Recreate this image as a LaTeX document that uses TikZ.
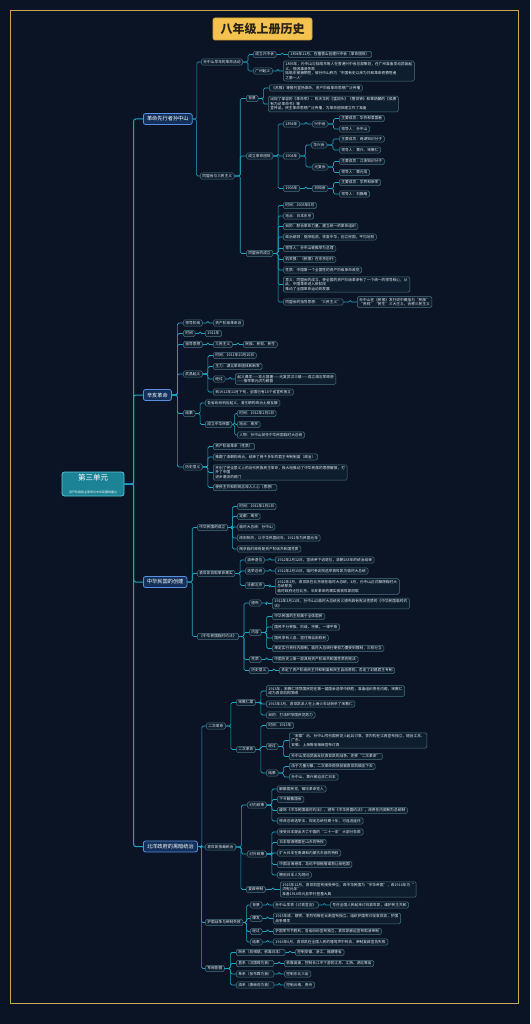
\documentclass[tikz,border=0pt]{standalone}
\usepackage{fontspec}
\setmainfont{Noto Sans CJK SC}
\usetikzlibrary{calc}
\definecolor{bgc}{HTML}{0B1424}
\definecolor{framec}{HTML}{C8A850}
\definecolor{lkc}{HTML}{1EA7C4}
\definecolor{bxfill}{HTML}{0F1E2E}
\definecolor{bxline}{HTML}{4A7482}
\definecolor{onefill}{HTML}{12305A}
\definecolor{oneline}{HTML}{5A8FE0}
\definecolor{rootfill}{HTML}{1C8295}
\definecolor{rootline}{HTML}{58C8DC}
\definecolor{titlefill}{HTML}{F3C24F}
\definecolor{titleline}{HTML}{D9A531}
\definecolor{titletext}{HTML}{2A2418}
\definecolor{txt}{HTML}{E6EEF4}
\tikzset{
  bx/.style={anchor=west, draw=bxline, fill=bxfill, rounded corners=1.5pt, line width=0.5pt,
    inner xsep=2.2pt, inner ysep=1.4pt, text=txt, font=\fontsize{3.7}{4.6}\selectfont, align=left},
  lone/.style={anchor=west, draw=oneline, fill=onefill, rounded corners=2pt, line width=0.8pt,
    inner xsep=3.6pt, inner ysep=3pt, text=white, font=\fontsize{5.2}{6}\selectfont},
  rootbox/.style={draw=rootline, fill=rootfill, rounded corners=2.5pt, line width=0.8pt,
    minimum width=62pt, minimum height=24pt, align=center, text=white, inner sep=1pt},
  titlebox/.style={draw=titleline, fill=titlefill, rounded corners=2pt, line width=0.6pt,
    minimum width=99pt, minimum height=22pt, text=titletext, font=\fontsize{12}{14}\selectfont\bfseries},
  lk/.style={draw=lkc, line width=0.6pt, rounded corners=1.5pt},
  lkone/.style={draw=lkc, line width=1pt, rounded corners=2pt},
}
\newcommand\mynode[5][bx]{\node[#1] (#2) at (#3,#4) {#5};}
\newcommand\mylink[3][lk]{\draw[#1] (#2.east) -- ($(#2.east)!.5!(#2.east -| #3.west)$) |- (#3.west);}
\begin{document}
\begin{tikzpicture}[x=1pt,y=-1pt]
\fill[bgc] (0,0) rectangle (530,1024);
\useasboundingbox (0,0) rectangle (530,1024);
\draw[framec, line width=0.8pt] (10,10) rectangle (518,1003);

\node[titlebox] (T) at (262.5,29) {八年级上册历史};
\node[rootbox] (R) at (93,484) {{\fontsize{7.5}{9}\selectfont 第三单元}\\[0.5pt]{\fontsize{3}{3.6}\selectfont 资产阶级民主革命与中华民国的建立}};

% level 1
\mynode[lone]{A}{143}{119}{革命先行者孙中山}
\mynode[lone]{B}{143}{395}{辛亥革命}
\mynode[lone]{C}{143}{582}{中华民国的创建}
\mynode[lone]{D}{143}{846.5}{北洋政府的黑暗统治}
\mylink[lkone]{R}{A}
\mylink[lkone]{R}{B}
\mylink[lkone]{R}{C}
\mylink[lkone]{R}{D}

% ===== A =====
\mynode{A1}{201}{62}{孙中山早年的革命活动}
\mynode{A11}{253}{54.5}{成立兴中会}
\mynode{A111}{288}{54.5}{1894年11月，在檀香山创建兴中会（革命团体）}
\mynode{A12}{253}{71}{广州起义}
\mynode{A121}{283}{71}{1895年，孙中山与陆皓东等人在香港兴中会总部策划，在广州准备发动武装起\\义，但因事泄失败\\陆皓东被捕牺牲，被孙中山称为“中国有史以来为共和革命而牺牲者\\之第一人”}
\mylink{A}{A1}
\mylink{A1}{A11}\mylink{A11}{A111}
\mylink{A1}{A12}\mylink{A12}{A121}

\mynode{A2}{200}{176}{同盟会与三民主义}
\mylink{A}{A2}
\mynode{A21}{246}{98.5}{背景}
\mynode{A211}{269}{88}{《苏报》等报刊宣扬革命，资产阶级革命思想广泛传播}
\mynode{A212}{268}{104}{出现了邹容的《革命军》、陈天华的《猛回头》《警世钟》和章炳麟的《驳康\\有为论革命书》等\\宣传品，民主革命思想广泛传播，为革命团体建立作了准备}
\mylink{A2}{A21}\mylink{A21}{A211}\mylink{A21}{A212}

\mynode{A22}{246}{156}{成立革命团体}
\mylink{A2}{A22}
\mynode{A221}{283}{124}{1894年}
\mynode{A2211}{312}{124}{兴中会}
\mynode{a1}{339}{118.5}{主要成员：华侨和爱国者}
\mynode{a2}{339}{129}{领导人：孙中山}
\mylink{A22}{A221}\mylink{A221}{A2211}\mylink{A2211}{a1}\mylink{A2211}{a2}
\mynode{A222}{283}{156}{1904年}
\mynode{A2221}{311}{145}{华兴会}
\mynode{a3}{339}{139}{主要成员：两湖知识分子}
\mynode{a4}{339}{150}{领导人：黄兴、宋教仁}
\mynode{A2222}{312}{167}{光复会}
\mynode{a5}{339}{161.5}{主要成员：江浙知识分子}
\mynode{a6}{339}{172.5}{领导人：蔡元培}
\mylink{A22}{A222}\mylink{A222}{A2221}\mylink{A222}{A2222}
\mylink{A2221}{a3}\mylink{A2221}{a4}\mylink{A2222}{a5}\mylink{A2222}{a6}
\mynode{A223}{283}{188.5}{1906年}
\mynode{A2231}{312}{188.5}{日知会}
\mynode{a7}{339}{182.5}{主要成员：学界和新军}
\mynode{a8}{339}{194}{领导人：刘静庵}
\mylink{A22}{A223}\mylink{A223}{A2231}\mylink{A2231}{a7}\mylink{A2231}{a8}

\mynode{A23}{246}{253.5}{同盟会的成立}
\mylink{A2}{A23}
\mynode{g1}{283}{205.5}{时间：1905年8月}
\mynode{g2}{283}{216}{地点：日本东京}
\mynode{g3}{283}{226.5}{目的：联合革命力量，建立统一的革命组织}
\mynode{g4}{283}{237}{政治纲领：驱除鞑虏，恢复中华，创立民国，平均地权}
\mynode{g5}{283}{248.5}{领导人：孙中山被推举为总理}
\mynode{g6}{283}{259.5}{机关报：《民报》在东京创刊}
\mynode{g7}{283}{270}{性质：中国第一个全国性的资产阶级革命政党}
\mynode{g8}{283}{284.5}{意义：同盟会的成立，使全国的资产阶级革命有了一个统一的领导核心，从\\此，中国革命进入新阶段\\推动了全国革命运动的发展}
\mynode{g9}{283}{302}{同盟会的指导思想：“三民主义”}
\mynode{g91}{357}{302}{孙中山在《民报》发刊词中概括为“民族”\\“民权”“民生”三大主义，合称三民主义}
\foreach \g in {g1,g2,g3,g4,g5,g6,g7,g8,g9}{\mylink{A23}{\g}}
\mylink{g9}{g91}

% ===== B =====
\mynode{B1}{183}{323}{领导阶级}
\mynode{B11}{213}{323}{资产阶级革命派}
\mynode{B2}{183}{333.5}{时间}
\mynode{B21}{205}{333.5}{1911年}
\mynode{B3}{183}{344.5}{指导思想}
\mynode{B31}{213}{344.5}{三民主义}
\mynode{B311}{243}{344.5}{民族、民权、民生}
\mylink{B}{B1}\mylink{B1}{B11}
\mylink{B}{B2}\mylink{B2}{B21}
\mylink{B}{B3}\mylink{B3}{B31}\mylink{B31}{B311}

\mynode{B4}{183}{374}{武昌起义}
\mynode{B41}{213}{355.5}{时间：1911年10月10日}
\mynode{B42}{213}{366.5}{主力：湖北革命团体和新军}
\mynode{B43}{213}{379}{经过}
\mynode{B431}{235}{379}{起义爆发——攻占督署——光复武汉三镇——成立湖北军政府\\——推举黎元洪为都督}
\mynode{B44}{213}{392}{到1911年11月下旬，全国已有15个省宣布独立}
\mylink{B}{B4}
\mylink{B4}{B41}\mylink{B4}{B42}\mylink{B4}{B43}\mylink{B4}{B44}\mylink{B43}{B431}

\mynode{B5}{183}{413.5}{结果}
\mynode{B51}{205}{403}{各省纷纷响应起义，清王朝的统治土崩瓦解}
\mynode{B52}{205}{424.5}{成立中华民国}
\mynode{B521}{237}{413.5}{时间：1912年1月1日}
\mynode{B522}{237}{424.5}{地点：南京}
\mynode{B523}{237}{435}{人物：孙中山就任中华民国临时大总统}
\mylink{B}{B5}
\mylink{B5}{B51}\mylink{B5}{B52}
\mylink{B52}{B521}\mylink{B52}{B522}\mylink{B52}{B523}

\mynode{B6}{183}{467}{历史意义}
\mynode{B61}{213}{446.5}{资产阶级革命（性质）}
\mynode{B62}{213}{457}{推翻了清朝的统治，结束了两千多年的君主专制制度（政治）}
\mynode{B63}{213}{472.5}{开创了完全意义上的近代民族民主革命，极大地推动了中华民族的思想解放，打\\开了中国\\进步潮流的闸门}
\mynode{B64}{213}{487.5}{使民主共和的观念深入人心（思想）}
\mylink{B}{B6}
\mylink{B6}{B61}\mylink{B6}{B62}\mylink{B6}{B63}\mylink{B6}{B64}

% ===== C =====
\mynode{C1}{197}{527.5}{中华民国的成立}
\mynode{c11}{237}{506.5}{时间：1912年1月1日}
\mynode{c12}{237}{516.5}{定都：南京}
\mynode{c13}{237}{527}{临时大总统：孙中山}
\mynode{c14}{237}{538}{改用阳历，以中华民国纪年，1912年为民国元年}
\mynode{c15}{237}{549}{南京临时政府是资产阶级共和国性质}
\mylink{C}{C1}
\foreach \c in {c11,c12,c13,c14,c15}{\mylink{C1}{\c}}

\mynode{C2}{197}{573.5}{袁世凯窃取革命果实}
\mynode{c21}{245}{560}{清帝退位}
\mynode{c211}{275}{560}{1912年2月12日，宣统帝下诏退位，清朝268年的统治结束}
\mynode{c22}{245}{571}{选举总统}
\mynode{c221}{275}{571}{1912年2月15日，临时参议院选举袁世凯为临时大总统}
\mynode{c23}{245}{585.5}{迁都北京}
\mynode{c231}{275}{586.5}{1912年3月，袁世凯在北京就任临时大总统，4月，孙中山正式解除临时大\\总统职务\\临时政府迁往北京，辛亥革命的果实被袁世凯窃取}
\mylink{C}{C2}
\mylink{C2}{c21}\mylink{C2}{c22}\mylink{C2}{c23}
\mylink{c21}{c211}\mylink{c22}{c221}\mylink{c23}{c231}

\mynode{C3}{197}{636.5}{《中华民国临时约法》}
\mynode{c31}{249}{603}{颁布}
\mynode{c311}{272}{603.5}{1912年3月11日，孙中山以临时大总统名义颁布具有宪法性质的《中华民国临时约\\法》}
\mynode{c32}{249}{632.5}{内容}
\mynode{c321}{272}{616.5}{中华民国的主权属于全体国民}
\mynode{c322}{272}{627}{国民不分种族、阶级、宗教，一律平等}
\mynode{c323}{272}{638}{国民享有人身、居住等自由权利}
\mynode{c324}{272}{648.5}{规定实行责任内阁制，临时大总统行使权力要受到限制，三权分立}
\mynode{c33}{249}{659.5}{性质}
\mynode{c331}{272}{659.5}{中国历史上第一部具有资产阶级共和国性质的宪法}
\mynode{c34}{249}{670.5}{历史意义}
\mynode{c341}{279}{670.5}{肯定了资产阶级民主共和制度和民主自由原则，否定了封建君主专制}
\mylink{C}{C3}
\mylink{C3}{c31}\mylink{C3}{c32}\mylink{C3}{c33}\mylink{C3}{c34}
\mylink{c31}{c311}
\foreach \c in {c321,c322,c323,c324}{\mylink{c32}{\c}}
\mylink{c33}{c331}\mylink{c34}{c341}

% ===== D =====
\mynode{D1}{206}{726}{二次革命}
\mynode{d11}{236}{702.5}{宋教仁案}
\mynode{d111}{266}{691}{1913年，宋教仁领导国民党在第一届国会选举中获胜，准备组织责任内阁，宋教仁\\成为袁世凯的障碍}
\mynode{d112}{266}{704}{1913年3月，袁世凯派人在上海火车站刺杀了宋教仁}
\mynode{d113}{266}{715}{目的：打击铲除国民党势力}
\mynode{d12}{236}{749.5}{二次革命}
\mynode{d121}{266}{725.5}{时间：1913年}
\mynode{d122}{266}{746.5}{经过}
\mynode{d1221}{289}{740.5}{“宋案”后，孙中山号召国民党人起兵讨袁，李烈钧在江西宣布独立，随后江苏、\\广东、\\安徽、上海等地相继宣布讨袁}
\mynode{d1222}{289}{756.5}{孙中山发动武装反抗袁世凯的战争，史称“二次革命”}
\mynode{d123}{266}{773}{结果}
\mynode{d1231}{289}{766.5}{由于力量分散，二次革命很快就被袁世凯镇压下去}
\mynode{d1232}{289}{777}{孙中山、黄兴被迫流亡日本}
\mylink{D}{D1}
\mylink{D1}{d11}\mylink{D1}{d12}
\mylink{d11}{d111}\mylink{d11}{d112}\mylink{d11}{d113}
\mylink{d12}{d121}\mylink{d12}{d122}\mylink{d12}{d123}
\mylink{d122}{d1221}\mylink{d122}{d1222}\mylink{d123}{d1231}\mylink{d123}{d1232}

\mynode{D2}{205}{847}{袁世凯独裁统治}
\mynode{d21}{247}{805}{对内政策}
\mynode{d211}{277}{789}{解散国民党，镇压革命党人}
\mynode{d212}{277}{799.5}{下令解散国会}
\mynode{d213}{277}{810.5}{废除《中华民国临时约法》，颁布《中华民国约法》，改责任内阁制为总统制}
\mynode{d214}{277}{821}{修改总统选举法，规定总统任期十年，可连选连任}
\mynode{d22}{247}{854}{对外政策}
\mynode{d221}{277}{832}{接受日本提出灭亡中国的“二十一条”大部分条款}
\mynode{d222}{277}{842.5}{日本取得德国在山东的特权}
\mynode{d223}{277}{853}{扩大日本在南满和内蒙古东部的特权}
\mynode{d224}{277}{864.5}{中国沿海港湾、岛屿不得租借或割让给他国}
\mynode{d225}{277}{875}{聘用日本人为顾问}
\mynode{d23}{246}{889.5}{复辟帝制}
\mynode{d231}{280}{889.5}{1915年12月，袁世凯宣布接受帝位，改中华民国为“中华帝国”，改1916年为“\\洪宪元年”\\准备1916年元旦举行登基大典}
\mylink{D}{D2}
\mylink{D2}{d21}\mylink{D2}{d22}\mylink{D2}{d23}
\foreach \d in {d211,d212,d213,d214}{\mylink{d21}{\d}}
\foreach \d in {d221,d222,d223,d224,d225}{\mylink{d22}{\d}}
\mylink{d23}{d231}

\mynode{D3}{205}{922.5}{护国战争与帝制失败}
\mynode{d31}{250}{905}{背景}
\mynode{d311}{273}{905}{孙中山发表《讨袁宣言》}
\mynode{d3111}{330}{905}{号召全国人民起来讨伐袁世凯，维护民主共和}
\mynode{d32}{250}{918.5}{爆发}
\mynode{d321}{273}{918.5}{1915年底，蔡锷、李烈钧等在云南宣布独立，组织护国军讨伐袁世凯，护国\\战争爆发}
\mynode{d33}{250}{931.5}{经过}
\mynode{d331}{273}{931.5}{护国军节节胜利，各省纷纷宣布独立，袁世凯被迫宣布取消帝制}
\mynode{d34}{250}{942}{结果}
\mynode{d341}{273}{942}{1916年6月，袁世凯在全国人民的唾骂声中死去，帝制复辟宣告失败}
\mylink{D}{D3}
\mylink{D3}{d31}\mylink{D3}{d32}\mylink{D3}{d33}\mylink{D3}{d34}
\mylink{d31}{d311}\mylink{d311}{d3111}\mylink{d32}{d321}\mylink{d33}{d331}\mylink{d34}{d341}

\mynode{D4}{205}{968.5}{军阀割据}
\mynode{d41}{236}{952.5}{皖系（段祺瑞，依靠日本）}
\mynode{d411}{295}{952.5}{控制安徽、浙江、福建等省}
\mynode{d42}{236}{963.5}{直系（冯国璋为首）}
\mynode{d421}{284}{963.5}{依靠英美，控制长江中下游的江苏、江西、湖北等省}
\mynode{d43}{236}{974}{奉系（张作霖为首）}
\mynode{d431}{284}{974}{控制东北三省}
\mynode{d44}{236}{985}{滇系（唐继尧为首）}
\mynode{d441}{284}{985}{控制云南、贵州}
\mylink{D}{D4}
\mylink{D4}{d41}\mylink{D4}{d42}\mylink{D4}{d43}\mylink{D4}{d44}
\mylink{d41}{d411}\mylink{d42}{d421}\mylink{d43}{d431}\mylink{d44}{d441}
\end{tikzpicture}
\end{document}
